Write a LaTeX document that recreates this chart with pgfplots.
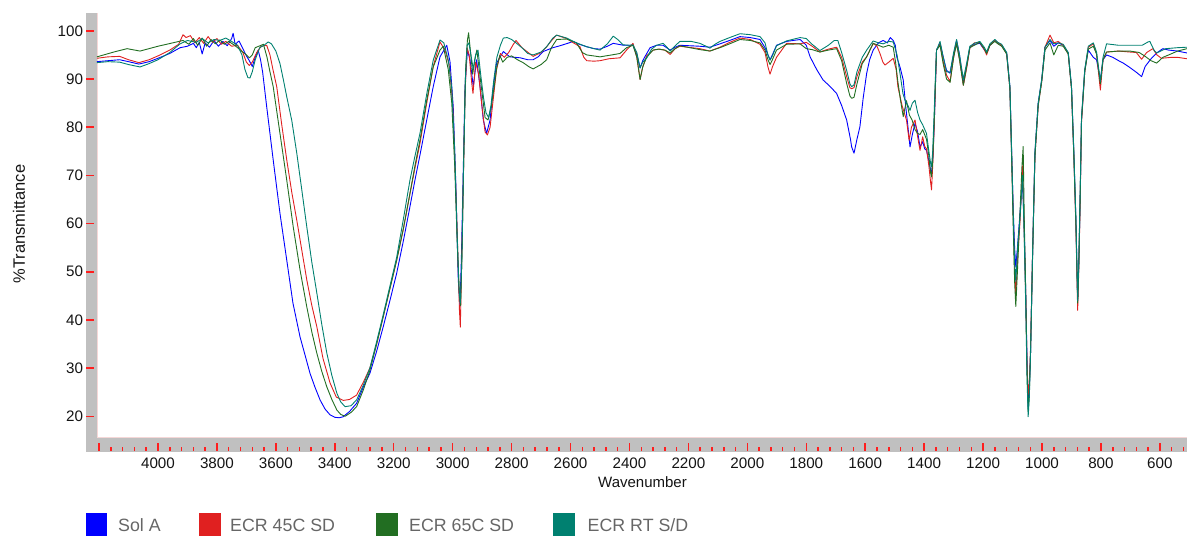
\documentclass[border=0pt]{standalone}
\usepackage{fontspec}
\setmainfont{Liberation Sans}
\usepackage{pgfplots}
\pgfplotsset{compat=1.18}
\definecolor{solA}{RGB}{0,0,255}
\definecolor{ecr45}{RGB}{224,32,32}
\definecolor{ecr65}{RGB}{34,110,34}
\definecolor{ecrRT}{RGB}{0,128,112}
\definecolor{barGray}{RGB}{192,192,192}
\definecolor{tickRed}{RGB}{255,30,30}
\definecolor{legGray}{RGB}{102,102,102}
\definecolor{edgePink}{RGB}{245,215,215}
\definecolor{txt}{RGB}{20,20,20}
\begin{document}
\begin{tikzpicture}[x=1pt,y=1pt]
\useasboundingbox (0,0) rectangle (1187,538);
% frame bars
\fill[barGray] (86,86) rectangle (97,525);
\fill[barGray] (86,86) rectangle (1187,100);
\draw[edgePink,line width=0.8] (97,100.4) -- (1187,100.4);
\draw[edgePink,line width=0.8] (97.4,100) -- (97.4,525);
% ticks
\foreach \t in {20,30,...,100} \draw[tickRed,line width=1.5] (86,{100+(\t-15.5)*4.81859}) -- ++(8,0);
\foreach \w in {4160,4120,...,520} \draw[tickRed,line width=1.5] ({97+(4207-\w)*0.294674},87) -- ++(0,3.8);
\foreach \w in {4200,4000,...,600} \draw[tickRed,line width=1.5] ({97+(4207-\w)*0.294674},87) -- ++(0,8.3);
% axis labels
\node[anchor=base,inner sep=0pt,text=txt,font=\fontsize{15}{17}\selectfont] at (642.5,50.5) {Wavenumber};
\node[rotate=90,inner sep=0pt,text=txt,font=\fontsize{16.5}{19}\selectfont] at (19,314) {\%Transmittance};
% legend
\fill[solA] (86,1.5) rectangle (107.3,25);
\fill[ecr45] (199,1.5) rectangle (220.7,25);
\fill[ecr65] (376,1.5) rectangle (398,25);
\fill[ecrRT] (552.7,1.5) rectangle (575,25);
\begin{scope}[every node/.style={anchor=base west,inner sep=0pt,text=legGray,font=\fontsize{17.8}{20}\selectfont}]
\node at (118,6.3) {Sol A};
\node at (230,6.3) {ECR 45C SD};
\node at (409,6.3) {ECR 65C SD};
\node at (587.5,6.3) {ECR RT S/D};
\end{scope}
\begin{axis}[
  at={(97pt,100pt)}, anchor=south west,
  width=1090pt, height=425pt, scale only axis,
  x dir=reverse, xmin=508, xmax=4207, ymin=15.5, ymax=103.7,
  axis line style={draw=none}, major tick length=0pt,
  xtick={600,800,...,4000}, ytick={20,30,...,100},
  /pgf/number format/assume math mode=true,
  /pgf/number format/1000 sep={},
  ticklabel style={font=\fontsize{15.2}{17}\selectfont, text=txt, inner sep=0pt},
  xticklabel style={yshift=-19.5pt},
  yticklabel style={xshift=-13.7pt},
  every axis plot/.append style={line width=0.9pt, line join=round},
]
\addplot[solA] coordinates {(4207,93.6)(4170,93.8)(4130,94.0)(4100,93.6)(4065,93.1)(4030,93.6)(4000,94.3)(3960,95.3)(3925,96.5)(3900,96.8)(3880,97.4)(3870,96.5)(3860,97.6)(3850,95.2)(3840,97.5)(3825,96.6)(3810,98.0)(3795,96.8)(3780,97.8)(3765,96.9)(3750,98.4)(3745,99.5)(3738,97.2)(3725,97.9)(3712,96.3)(3700,94.8)(3690,93.8)(3680,92.6)(3670,94.5)(3660,96.0)(3652,94.0)(3645,91.5)(3631,84.2)(3609,73.2)(3586,62.1)(3563,52.4)(3542,43.5)(3518,36.5)(3500,32.5)(3484,28.9)(3467,26)(3450,23.4)(3433,21.5)(3416,20.3)(3400,19.8)(3385,19.7)(3372,19.9)(3350,21)(3326,22.7)(3303,26.1)(3281,28.9)(3258,33.5)(3236,38.5)(3213,44)(3190,49.7)(3167,56.5)(3145,63.5)(3128,69)(3111,74.2)(3088,81.5)(3066,88.4)(3043,94.6)(3020,97.0)(3009,93.6)(2998,84.2)(2989,67.6)(2981,48.3)(2975,42.8)(2970,53.9)(2964,71.2)(2958,88.4)(2950,96)(2941,94)(2930,88.4)(2919,94)(2907,88.4)(2896,81.5)(2885,78.7)(2873,81.5)(2862,88.4)(2851,93.3)(2828,95.7)(2806,94.6)(2771,94.4)(2745,94.0)(2727,94.0)(2710,94.6)(2693,95.7)(2660,96.5)(2636,96.9)(2610,97.4)(2591,97.8)(2570,97.2)(2545,96.7)(2520,96.3)(2500,96.2)(2475,96.8)(2455,97.4)(2420,97.0)(2388,97.0)(2375,95)(2364,92.3)(2355,93.8)(2347,94.7)(2330,96.5)(2308,97.0)(2286,97.0)(2262,96.0)(2245,96.6)(2229,97.0)(2161,96.8)(2127,96.6)(2093,97.3)(2060,98.0)(2025,98.8)(1990,98.6)(1957,98.2)(1940,96.5)(1930,95)(1923,94.0)(1915,95)(1901,97.0)(1867,97.8)(1821,98.2)(1800,97.0)(1787,94.6)(1765,92.0)(1743,89.8)(1720,88.5)(1697,87.0)(1680,84.5)(1663,81.5)(1650,77.5)(1646,75.9)(1638,74.6)(1628,77.5)(1618,80.1)(1607,86)(1595,91.2)(1585,94)(1573,96.0)(1555,97.5)(1539,98.0)(1525,97.5)(1515,98.6)(1505,98.0)(1498,97.0)(1493,94.6)(1482,92.5)(1471,89.8)(1462,84)(1455,80.1)(1448,75.9)(1440,78.5)(1431,80.8)(1422,79)(1414,75.9)(1405,77)(1398,75.5)(1392,75.2)(1384,73)(1378,71)(1375,70.4)(1370,74)(1365,82)(1361,90)(1358,96.0)(1346,97.4)(1335,94.5)(1324,91.8)(1312,91.2)(1300,95)(1290,98.0)(1280,95)(1267,89.0)(1255,93)(1245,96.6)(1230,97.2)(1211,97.4)(1195,96)(1188,95.4)(1177,97)(1160,98)(1150,97.5)(1137,97)(1120,95.4)(1109,88.4)(1103,74.6)(1098,63.5)(1093,55)(1089,51)(1082,56)(1075,62)(1066,69)(1060,58)(1055,45)(1051,32)(1047,22)(1043,26)(1039,33)(1032,53.8)(1024,74.6)(1013,85)(1001,89.8)(990,96.6)(973,98.0)(960,96.8)(945,97.5)(928,97)(911,95.4)(900,88.4)(892,74.6)(885,60.7)(879,44)(875,52)(871,64)(866,81.6)(855,91.8)(843,96)(826,94.5)(815,94)(802,89.8)(793,94)(781,95)(760,94.5)(740,93.8)(724,93.3)(700,92.3)(680,91.4)(662,90.5)(650,92.6)(630,94.2)(611,95.4)(590,96.3)(570,96.0)(540,95.8)(508,95.4)};
\addplot[ecr45] coordinates {(4207,94.3)(4170,94.6)(4130,94.7)(4100,94.0)(4065,93.4)(4030,94.0)(4000,94.8)(3960,96.0)(3930,97.2)(3915,99.2)(3905,98.6)(3890,99.0)(3875,97.5)(3860,98.6)(3845,97.4)(3830,98.8)(3815,97.6)(3800,98.4)(3785,97.2)(3770,97.8)(3750,96.8)(3730,97.0)(3712,95.5)(3700,93.5)(3690,92.8)(3680,93.5)(3665,95.5)(3650,96.8)(3631,97.0)(3620,95)(3610,92)(3597,88.4)(3580,80.5)(3563,73.2)(3546,66.5)(3529,60.7)(3512,54.5)(3495,48.3)(3478,43)(3461,38.6)(3440,32)(3416,26.9)(3395,24)(3371,23.3)(3350,23.5)(3326,24.4)(3303,27.1)(3281,30)(3258,35)(3236,40.6)(3213,46.5)(3190,52.4)(3167,59)(3145,66.2)(3128,71.5)(3111,76.6)(3088,85)(3066,92.6)(3043,97.7)(3026,96)(3012,93)(3000,85)(2991,70)(2983,55)(2977,42)(2974,38.5)(2970,50)(2964,68)(2958,87)(2951,96.5)(2944,95)(2935,89)(2931,87)(2922,93.5)(2912,91)(2900,84)(2890,79)(2882,78.4)(2873,80)(2862,86)(2851,92)(2838,95.3)(2825,94.5)(2810,95.5)(2795,97.1)(2785,98.0)(2765,96.5)(2748,95.7)(2727,94.7)(2700,95.5)(2681,96.7)(2660,98.3)(2647,99.1)(2613,98.4)(2590,97.5)(2568,96.7)(2555,94.5)(2545,93.8)(2520,93.7)(2500,93.8)(2470,94.2)(2432,94.4)(2410,96.0)(2388,97.4)(2375,94.5)(2364,89.9)(2355,92.5)(2342,94.8)(2320,96.0)(2300,96.2)(2280,96.0)(2262,95.1)(2245,96.3)(2229,96.8)(2161,96.3)(2127,95.8)(2093,96.6)(2060,97.6)(2025,98.5)(1990,98.2)(1957,97.2)(1940,95.5)(1930,92.5)(1923,91.0)(1915,92.5)(1901,94.5)(1867,97.4)(1821,97.3)(1800,97.6)(1780,96.8)(1754,95.6)(1725,96.2)(1697,96.6)(1680,94.5)(1663,90.5)(1652,88.2)(1646,88.0)(1638,88.2)(1628,90.5)(1610,93.5)(1595,94.6)(1573,97.4)(1560,96.8)(1550,95.3)(1540,93.5)(1533,92.9)(1520,93.5)(1505,94.3)(1495,92)(1489,88.4)(1475,84.5)(1460,81.5)(1451,77.3)(1443,80)(1431,81.5)(1422,78)(1414,75.2)(1405,78)(1398,76)(1392,75.5)(1384,72)(1378,68.5)(1375,67)(1371,72)(1366,80)(1362,88)(1358,96)(1346,97.2)(1335,93.5)(1324,90.8)(1312,89.5)(1300,94.5)(1290,97.6)(1280,94)(1267,88.7)(1255,92.5)(1245,96.4)(1230,97.5)(1211,97.6)(1195,96)(1188,95.0)(1177,97)(1160,98)(1150,97.5)(1137,97)(1120,95.2)(1109,88)(1103,74)(1098,62)(1093,50)(1089,45)(1082,54)(1075,60)(1066,72)(1060,57)(1055,44)(1051,31)(1047,24.5)(1043,27)(1039,34)(1032,54)(1024,74)(1013,84.5)(1001,89.5)(990,96.6)(973,99.1)(960,97.5)(945,97.8)(928,97)(911,95.2)(900,88)(892,74)(885,59)(879,42)(875,51)(871,63)(866,81)(855,91.5)(843,96.6)(826,97.3)(815,95.2)(802,87.7)(793,94)(781,95.6)(740,95.8)(702,95.6)(680,95.5)(662,94.1)(645,95.5)(624,96.3)(610,95)(595,94.3)(560,94.5)(540,94.5)(508,94.2)};
\addplot[ecr65] coordinates {(4207,94.6)(4150,95.6)(4105,96.3)(4061,95.8)(4000,96.8)(3950,97.5)(3915,98.0)(3895,97.2)(3880,98.4)(3865,97.0)(3850,98.5)(3835,96.8)(3820,98.2)(3805,97.3)(3790,98.1)(3775,97.2)(3760,97.8)(3740,97.0)(3720,96)(3700,95)(3690,94.4)(3680,95)(3670,96.5)(3650,97.0)(3642,97.2)(3630,94.5)(3620,91.5)(3609,88.4)(3586,78.7)(3563,69)(3541,59.3)(3518,50.4)(3495,42.7)(3478,37.5)(3461,33.1)(3444,29.3)(3427,26.1)(3410,23.5)(3393,21.3)(3380,20.4)(3365,20)(3345,20.8)(3326,22)(3303,25.5)(3281,29.5)(3258,35)(3236,40.6)(3213,46.5)(3190,52.4)(3167,59)(3145,66.2)(3128,72)(3111,77.3)(3088,85.6)(3066,92.5)(3043,96)(3032,96.8)(3015,92)(3003,85)(2993,72)(2984,55)(2977,45)(2973,43)(2968,55)(2962,75)(2956,92)(2950,98)(2946,99.6)(2940,96)(2932,91)(2925,94)(2918,96)(2908,91)(2898,86)(2890,82)(2880,81.5)(2870,84)(2860,88)(2850,92.5)(2840,94.9)(2830,93.5)(2815,94.5)(2800,94.8)(2780,94)(2761,93.4)(2740,92.5)(2727,92.1)(2700,93.0)(2681,94.0)(2665,96.5)(2647,98.2)(2613,98.3)(2580,97.5)(2560,95.5)(2545,95.0)(2500,94.6)(2460,95.0)(2432,95.3)(2410,96.5)(2388,97.0)(2375,94.5)(2364,89.9)(2355,92.5)(2342,94.5)(2320,96.0)(2300,96.2)(2280,96.0)(2262,95.4)(2245,96.3)(2229,96.9)(2161,96.1)(2127,95.8)(2093,96.5)(2060,97.3)(2025,98.2)(1990,98.0)(1957,97.5)(1940,96)(1930,94)(1923,93.0)(1915,94)(1901,96.0)(1867,97.2)(1821,97.3)(1800,96.3)(1780,96.1)(1754,95.6)(1725,96.0)(1697,96.3)(1680,93.8)(1663,89.1)(1652,86.5)(1646,86.0)(1638,86.2)(1628,89.0)(1610,93.2)(1595,94.6)(1573,97.4)(1555,97.0)(1539,96.6)(1520,97.0)(1505,96.6)(1497,93.5)(1490,89.8)(1480,85.5)(1471,82.2)(1465,84)(1460,85.5)(1450,82.5)(1441,81.5)(1431,79.5)(1422,78.7)(1414,78.5)(1405,79.5)(1392,77.5)(1384,74)(1378,70.5)(1375,69.7)(1371,73)(1366,81)(1362,89)(1358,96)(1346,97.0)(1335,93)(1324,90)(1312,89.3)(1300,94.5)(1290,97.3)(1280,94)(1267,88.7)(1255,92.8)(1245,96.5)(1230,97.0)(1211,97.6)(1195,96.2)(1188,95.3)(1177,97)(1160,97.8)(1150,97.3)(1137,96.8)(1120,95.2)(1109,88)(1103,73)(1098,60)(1093,48)(1089,42.8)(1082,52)(1075,62)(1068,72)(1064,76)(1060,60)(1055,45)(1051,30)(1047,21)(1043,25)(1039,33)(1032,53)(1024,74)(1013,84.5)(1001,89.5)(990,96)(973,97.5)(960,95)(945,97)(928,96.8)(911,95.2)(900,88)(892,74)(885,60)(879,43.5)(875,52)(871,64)(866,81.5)(855,91.5)(843,96.2)(826,96.8)(815,95.2)(802,89)(793,94)(781,95.6)(740,95.8)(702,95.8)(670,95.5)(650,94.7)(630,93.8)(611,93.3)(590,94.5)(570,95)(540,95.8)(508,96.3)};
\addplot[ecrRT] coordinates {(4207,93.4)(4170,93.6)(4130,93.5)(4100,93.0)(4061,92.5)(4030,93.2)(4000,94.0)(3960,95.5)(3925,97.3)(3900,98.0)(3870,97.6)(3850,98.4)(3830,97.5)(3810,98.2)(3790,98.0)(3770,98.5)(3750,97.8)(3730,97.0)(3715,95.0)(3705,92.0)(3695,90.3)(3688,90.2)(3680,91.5)(3670,94.0)(3655,96.5)(3640,97.0)(3626,97.7)(3615,97.3)(3600,95.8)(3586,93.2)(3575,90)(3563,86.3)(3546,81.4)(3529,74.6)(3512,67)(3495,59.3)(3478,52)(3461,45.6)(3444,39)(3427,33.1)(3410,28.5)(3393,24.8)(3380,23)(3365,22)(3345,22.2)(3326,23.4)(3303,26.5)(3281,30)(3258,35.5)(3236,41)(3213,47)(3190,53)(3167,61)(3145,69)(3128,74)(3111,78.7)(3088,86.9)(3066,93.9)(3043,98.1)(3030,97.5)(3015,94)(3003,88)(2993,75)(2985,58)(2978,46)(2974,43.5)(2969,52)(2963,72)(2957,90)(2951,97)(2945,97.5)(2938,95)(2930,92)(2922,95)(2914,96)(2905,91)(2895,86)(2887,83)(2878,82)(2870,84.5)(2860,90)(2850,94.5)(2838,97)(2828,98.5)(2815,98.6)(2800,98.2)(2785,97.5)(2765,96.5)(2745,95.3)(2727,95.0)(2700,95.6)(2681,96.7)(2660,98.5)(2647,99.1)(2613,98.5)(2580,97.5)(2545,96.7)(2520,96.3)(2500,96.0)(2475,97.3)(2455,98.9)(2440,98.2)(2422,97.1)(2400,97.0)(2388,97.1)(2375,95.5)(2364,92.3)(2355,93.5)(2342,94.3)(2325,96.2)(2308,97.0)(2286,97.4)(2270,96.4)(2262,95.8)(2245,96.9)(2229,97.8)(2190,97.8)(2161,97.4)(2140,96.8)(2127,96.4)(2110,97.2)(2093,97.8)(2060,98.6)(2025,99.4)(1990,99.2)(1957,98.8)(1940,97.5)(1930,95)(1923,93.9)(1915,94.8)(1901,96.9)(1867,97.9)(1821,98.6)(1800,98.4)(1780,97.2)(1754,95.9)(1725,97.0)(1705,98.0)(1693,98.0)(1680,95.5)(1663,91.8)(1652,89)(1646,88.4)(1638,88.8)(1628,91.5)(1610,94.5)(1595,96.0)(1573,97.9)(1555,97.5)(1539,97.3)(1520,97.8)(1505,97.7)(1492,95)(1482,91.2)(1472,87)(1465,85.6)(1455,84.5)(1448,83.5)(1440,85)(1431,85.6)(1422,83)(1414,81.5)(1405,80.5)(1392,78.7)(1384,75)(1378,72.5)(1375,71.8)(1371,75)(1366,83)(1362,90)(1358,96)(1346,97.8)(1335,94.5)(1324,91.5)(1312,91.4)(1300,95.5)(1290,98.2)(1280,95)(1267,90.0)(1255,93.5)(1245,96.8)(1230,97.4)(1211,97.8)(1195,96.5)(1188,95.6)(1177,97.3)(1160,98.2)(1150,97.6)(1137,97.2)(1120,95.5)(1109,88.5)(1103,75)(1098,63)(1093,52)(1089,48)(1082,56)(1075,61)(1066,70)(1060,56)(1055,42)(1051,28)(1047,19.9)(1043,24)(1039,33)(1032,54)(1024,75)(1013,85)(1001,90)(990,96.6)(973,98.2)(960,97.3)(945,97.5)(928,97.2)(911,95.5)(900,88.5)(892,75)(885,61)(879,44)(875,53)(871,65)(866,82)(855,92)(843,96.8)(826,97.5)(815,95.6)(802,89.5)(793,94.5)(781,97.3)(740,97.0)(702,97.0)(660,97.0)(640,97.7)(634,97.8)(620,96)(611,95.4)(580,96.3)(540,96.5)(508,96.6)};
\end{axis}
\end{tikzpicture}
\end{document}
